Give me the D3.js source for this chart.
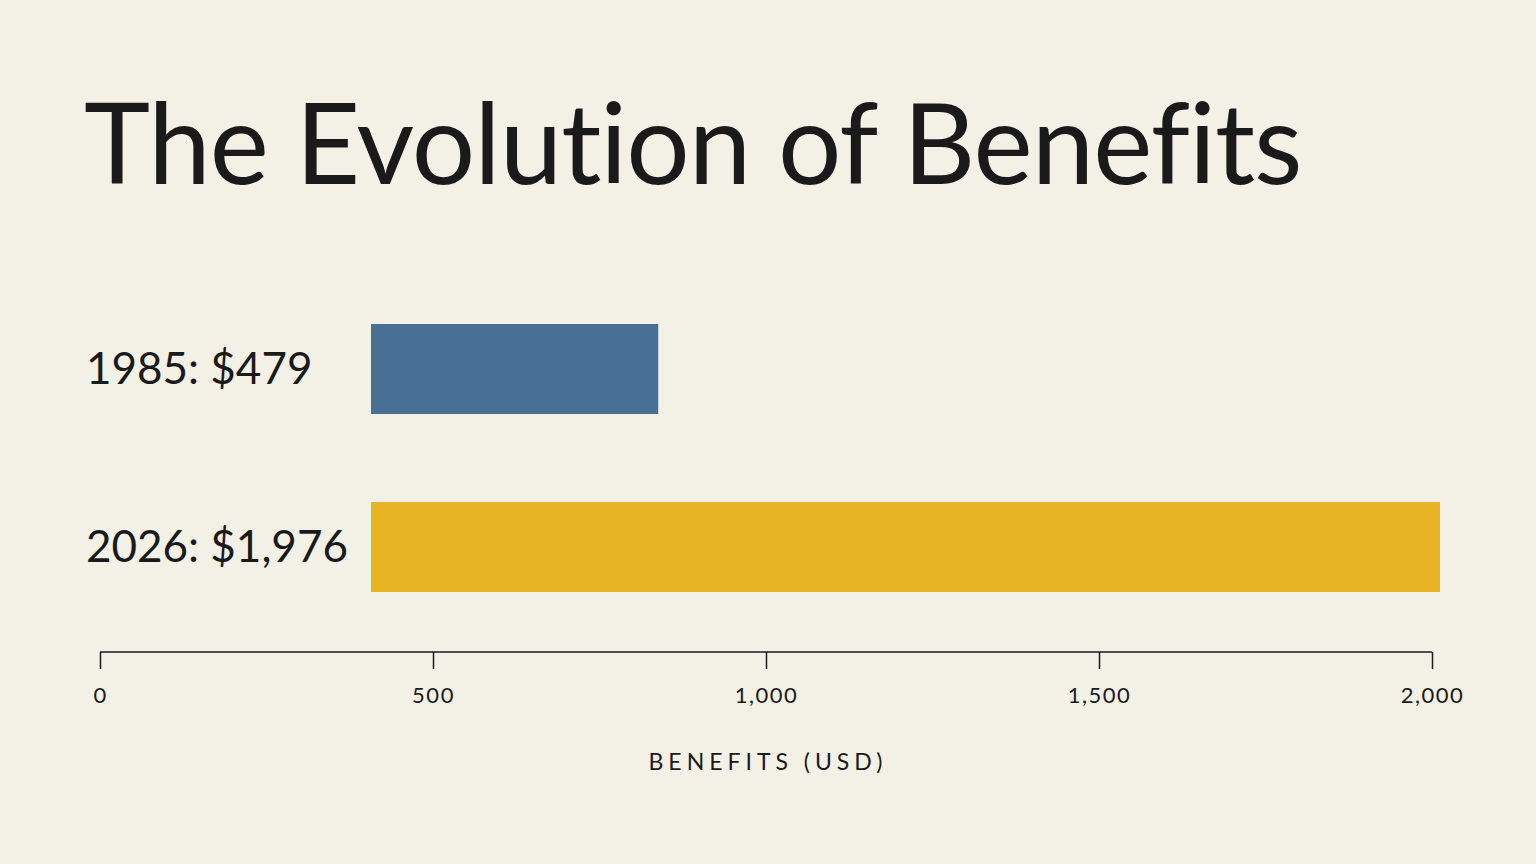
<!DOCTYPE html>
<html><head><meta charset="utf-8">
<script src="https://cdn.jsdelivr.net/npm/d3@7"></script>
<style>body{margin:0;background:#f3f0e6;}svg{display:block}</style>
</head><body>
<svg id="c" width="1536" height="864"></svg>
<script>
const categories = ["1985: $479", "2026: $1,976"];
const values = [479, 1976];
const colors = ["#4a6f97", "#e8b425"];
const tickValues = [0, 500, 1000, 1500, 2000];
const title = "The Evolution of Benefits";
const axisTitle = "BENEFITS (USD)";

const svg = d3.select("#c");
svg.append("rect").attr("width",1536).attr("height",864).attr("fill","#f3f0e6");
svg.append("text").attr("x",84).attr("y",184).attr("font-family","Lato, 'Open Sans', sans-serif")
  .attr("font-size",112).attr("font-weight",400).attr("fill","#1a1a1a").attr("letter-spacing",-1).text(title);

const x = d3.scaleLinear().domain([0,2000]).range([100,1432]);
// bars are drawn on their own scale, offset from the axis as in the reference
const xb = d3.scaleLinear().domain([-71,1976]).range([371,1440]);
const y = d3.scaleBand().domain(categories).range([322,596]).paddingInner(0.97).paddingOuter(0);
const yb = d3.scaleBand().domain(categories).range([324,593]).padding(0).paddingInner(0.97);

const bandH = 90;
const ys = [324, 502];
categories.forEach((c,i)=>{
  svg.append("rect").attr("x",xb(-71)).attr("y",ys[i]).attr("width",xb(values[i])-xb(-71)).attr("height",bandH).attr("fill",colors[i]);
  svg.append("text").attr("x",86).attr("y",ys[i]+bandH/2).attr("dy","0.35em")
    .attr("font-family","Lato, sans-serif").attr("font-size",44).attr("fill","#1a1a1a").text(c);
});

const ax = svg.append("g").attr("transform","translate(0,652)")
  .call(d3.axisBottom(x).tickValues(tickValues).tickSize(17).tickFormat(d3.format(",")));
ax.select(".domain").attr("stroke","#1a1a1a").attr("stroke-width",1.5).attr("d","M100,0H1432");
ax.selectAll(".tick line").attr("stroke","#1a1a1a").attr("stroke-width",1.5);
ax.selectAll(".tick text").attr("y",35).attr("font-family","Lato, sans-serif").attr("font-size",22)
  .attr("letter-spacing",1.5).attr("fill","#1a1a1a");

svg.append("text").attr("x",768).attr("y",770).attr("text-anchor","middle").attr("font-family","Lato, sans-serif")
  .attr("font-size",23).attr("letter-spacing",5).attr("fill","#1a1a1a").text(axisTitle);
</script>
</body></html>
